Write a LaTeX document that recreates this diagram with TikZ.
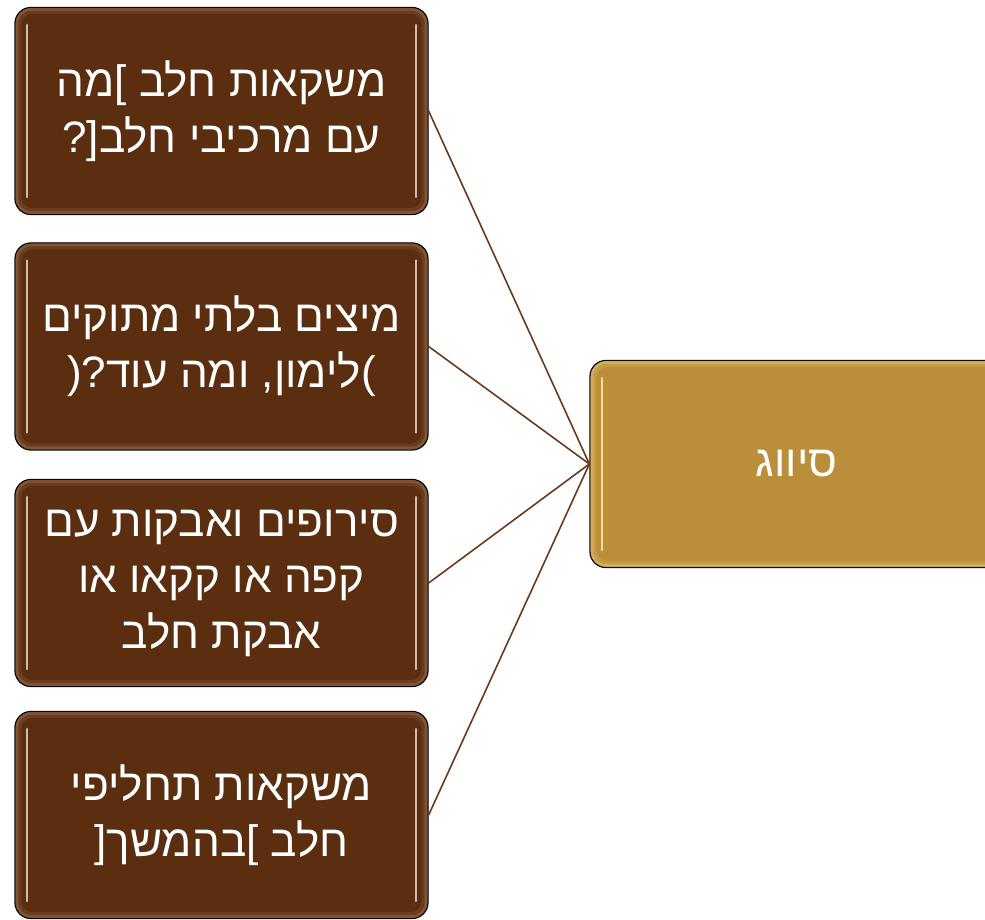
\documentclass[tikz,border=0pt]{standalone}
\usepackage{fontspec}
\newfontfamily\hebfont[Script=Hebrew]{Liberation Sans}
\TeXXeTstate=1
\definecolor{brownfill}{HTML}{5B2E10}
\definecolor{goldfill}{HTML}{BB8F3A}
\definecolor{brownrim}{HTML}{A77A5C}
\definecolor{goldrim}{HTML}{EBCB7C}
\definecolor{brownhl}{HTML}{F2DDCF}
\definecolor{goldhl}{HTML}{FFF3A8}
\definecolor{connc}{HTML}{6B3A1E}
\newcommand\pc[1]{\hbox{#1}}
\tikzset{
  gboxstyle/.style={draw=black, line width=1.3pt, rounded corners=16pt,
    minimum width=413pt, minimum height=207pt, inner sep=0pt,
    text=white, align=center,
    font=\hebfont\fontsize{44}{56}\selectfont},
  conn/.style={draw=connc, line width=1.6pt}
}
\newcommand\gbox[7]{%
  \node[gboxstyle, fill=#4] (#1) at (#2,#3) {#7};
  \draw[#5, line width=3pt, opacity=0.5, rounded corners=14pt]
    ([shift={(2.6,-2.6)}]#1.north west) rectangle ([shift={(-2.6,2.6)}]#1.south east);
  \draw[#5, line width=3pt, opacity=0.2, rounded corners=12pt]
    ([shift={(5.6,-5.6)}]#1.north west) rectangle ([shift={(-5.6,5.6)}]#1.south east);
  \draw[#6, line width=2.2pt, opacity=0.8, line cap=round]
    ([shift={(12.5,-18)}]#1.north west) -- ([shift={(12.5,18)}]#1.south west);
  \draw[#6, line width=2.2pt, opacity=0.8, line cap=round]
    ([shift={(-12.5,-18)}]#1.north east) -- ([shift={(-12.5,18)}]#1.south east);
}
\begin{document}
\begin{tikzpicture}[x=1pt,y=1pt]
\useasboundingbox (0,0) rectangle (985,919);
\clip (0,0) rectangle (985,919);
\gbox{b1}{221.5}{808}{brownfill}{brownrim}{brownhl}{\beginR משקאות חלב \pc{]}מה\endR\\\beginR עם מרכיבי חלב\pc{[}\pc{?}\endR}
\gbox{b2}{221.5}{572.5}{brownfill}{brownrim}{brownhl}{\beginR מיצים בלתי מתוקים\endR\\\beginR\pc{)}לימון\pc{,} ומה עוד\pc{?}\pc{(}\endR}
\gbox{b3}{221.5}{336}{brownfill}{brownrim}{brownhl}{\beginR סירופים ואבקות עם\endR\\\beginR קפה או קקאו או\endR\\\beginR אבקת חלב\endR}
\gbox{b4}{221.5}{104}{brownfill}{brownrim}{brownhl}{\beginR משקאות תחליפי\endR\\\beginR חלב \pc{]}בהמשך\pc{[}\endR}
\gbox{c}{796.5}{455}{goldfill}{goldrim}{goldhl}{\beginR סיווג\endR}
\draw[conn] (b1.east) -- (c.west);
\draw[conn] (b2.east) -- (c.west);
\draw[conn] (b3.east) -- (c.west);
\draw[conn] (b4.east) -- (c.west);
\end{tikzpicture}
\end{document}
